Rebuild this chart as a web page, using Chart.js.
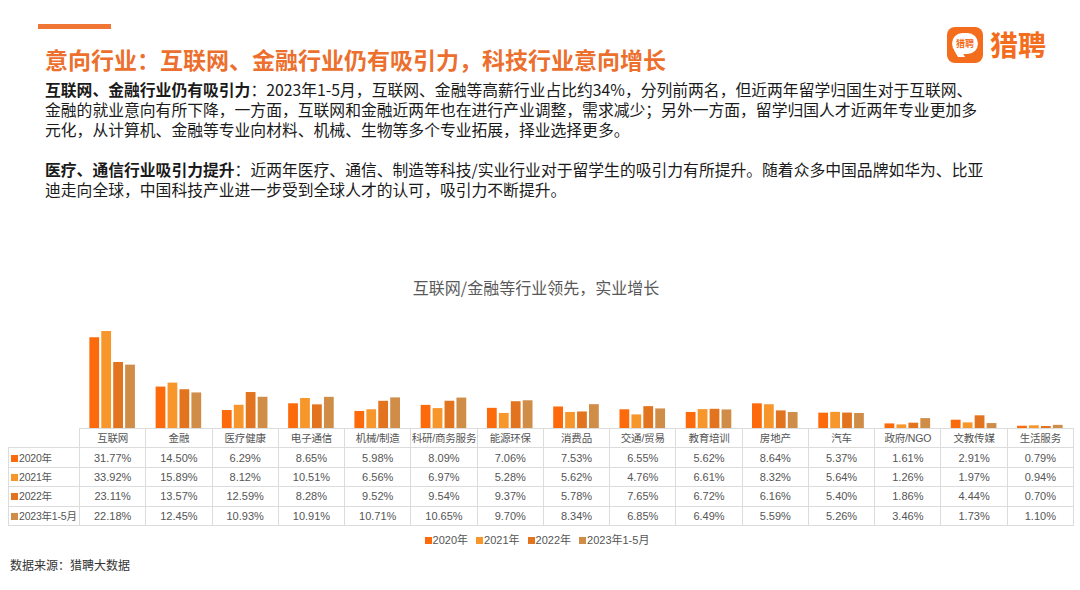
<!DOCTYPE html>
<html>
<head>
<meta charset="utf-8">
<script src="https://cdn.jsdelivr.net/npm/chart.js@4"></script>
<style>
  body { margin: 0; width: 1080px; height: 590px; background: #fff; position: relative; overflow: hidden;
         font-family: "Noto Sans CJK SC", "Liberation Sans", sans-serif; }
  .topbar { position: absolute; left: 38px; top: 24px; width: 73px; height: 5px; background: #ef7634; }
  .title { position: absolute; left: 45px; top: 42px; font-size: 23px; font-weight: bold; color: #ec6f2d; white-space: nowrap; }
  .body { position: absolute; left: 45px; top: 80px; font-size: 15.8px; line-height: 20px; color: #1a1a1a; white-space: nowrap; }
  .body b { font-weight: bold; }
  .logo { position: absolute; left: 947px; top: 27px; }
  .logo .sq { position: absolute; left: 0; top: 0; width: 36px; height: 36px; border-radius: 8px; background: #f36d1d; }
  .logo .bub { position: absolute; left: 5px; top: 6px; width: 26px; height: 21px; border-radius: 11px; background: #fff;
               color: #f36d1d; font-size: 9px; font-weight: bold; text-align: center; line-height: 21px; }
  .logo .tail { position: absolute; left: 9px; top: 23px; width: 7px; height: 7px; background: #fff; transform: skewX(30deg); }
  .logo .txt { position: absolute; left: 43px; top: -3px; font-size: 28px; font-weight: bold; color: #f36d1d; white-space: nowrap; }
  .ctitle { position: absolute; left: 0; width: 1072px; top: 275px; text-align: center; font-size: 16px; color: #595959; }
  #wrap { position: absolute; left: 79px; top: 318px; width: 994px; height: 110px; }
  table { position: absolute; left: 8px; top: 428px; border-collapse: collapse; table-layout: fixed;
          font-family: "Liberation Sans", "Noto Sans CJK SC", sans-serif; font-size: 11px; color: #555; }
  td { border: 1px solid #dcdcdc; height: 18.4px; line-height: 14px; padding: 0; text-align: center; white-space: nowrap; overflow: hidden; }
  tr.head td { font-size: 10.5px; letter-spacing: -0.2px; }
  td.lab { text-align: left; padding-left: 2px; font-size: 10.5px; letter-spacing: -0.2px; }
  td.blank { border-top: none; border-left: none; }
  .sw { display: inline-block; width: 7px; height: 7px; margin-right: 1px; vertical-align: 0px; }
  .legend { position: absolute; top: 531px; left: 0; width: 1074px; text-align: center; font-family: "Liberation Sans", "Noto Sans CJK SC", sans-serif;
            font-size: 11px; color: #555; }
  .legend span { margin: 0 4px; }
  .src { position: absolute; left: 10px; top: 556px; font-size: 12px; color: #333; }
</style>
</head>
<body>
<div class="topbar"></div>
<div class="title">意向行业：互联网、金融行业仍有吸引力，科技行业意向增长</div>
<div class="logo"><div class="sq"></div><div class="tail"></div><div class="bub">猎聘</div><div class="txt">猎聘</div></div>
<div class="body">
<b>互联网、金融行业仍有吸引力</b>：2023年1-5月，互联网、金融等高薪行业占比约34%，分列前两名，但近两年留学归国生对于互联网、<br>
金融的就业意向有所下降，一方面，互联网和金融近两年也在进行产业调整，需求减少；另外一方面，留学归国人才近两年专业更加多<br>
元化，从计算机、金融等专业向材料、机械、生物等多个专业拓展，择业选择更多。<br>
<br>
<b>医疗、通信行业吸引力提升</b>：近两年医疗、通信、制造等科技/实业行业对于留学生的吸引力有所提升。随着众多中国品牌如华为、比亚<br>
迪走向全球，中国科技产业进一步受到全球人才的认可，吸引力不断提升。
</div>
<div class="ctitle">互联网/金融等行业领先，实业增长</div>
<div id="wrap"><canvas id="chart"></canvas></div>
<table id="tbl"></table>
<div class="legend" id="legend"></div>
<div class="src">数据来源：猎聘大数据</div>

<script>
const categories = ['互联网', '金融', '医疗健康', '电子通信', '机械/制造', '科研/商务服务', '能源环保', '消费品',
  '交通/贸易', '教育培训', '房地产', '汽车', '政府/NGO', '文教传媒', '生活服务'];
const seriesNames = ['2020年', '2021年', '2022年', '2023年1-5月'];
const y2020 = [31.77, 14.50, 6.29, 8.65, 5.98, 8.09, 7.06, 7.53, 6.55, 5.62, 8.64, 5.37, 1.61, 2.91, 0.79];
const y2021 = [33.92, 15.89, 8.12, 10.51, 6.56, 6.97, 5.28, 5.62, 4.76, 6.61, 8.32, 5.64, 1.26, 1.97, 0.94];
const y2022 = [23.11, 13.57, 12.59, 8.28, 9.52, 9.54, 9.37, 5.78, 7.65, 6.72, 6.16, 5.40, 1.86, 4.44, 0.70];
const y2023 = [22.18, 12.45, 10.93, 10.91, 10.71, 10.65, 9.70, 8.34, 6.85, 6.49, 5.59, 5.26, 3.46, 1.73, 1.10];
const colors = ['#fd6a0c', '#f7962b', '#e2731f', '#cf8d48'];

const series = [y2020, y2021, y2022, y2023];

new Chart(document.getElementById('chart'), {
  type: 'bar',
  data: {
    labels: categories,
    datasets: series.map((data, i) => ({
      label: seriesNames[i],
      data: data,
      backgroundColor: colors[i],
      borderWidth: 0,
    })),
  },
  options: {
    responsive: true,
    maintainAspectRatio: false,
    animation: false,
    layout: { padding: 0 },
    categoryPercentage: 0.72,
    barPercentage: 0.82,
    scales: {
      x: { display: false },
      y: { display: false, min: 0, max: 38.5 },
    },
    plugins: {
      legend: { display: false },
      tooltip: { enabled: false },
    },
  },
});

// table under the bars
const tbl = document.getElementById('tbl');
const colW = 994 / categories.length;
let html = '<colgroup><col style="width:71px">' + categories.map(() => `<col style="width:${colW}px">`).join('') + '</colgroup>';
html += '<tr class="head"><td class="blank"></td>' + categories.map(c => `<td>${c}</td>`).join('') + '</tr>';
series.forEach((data, i) => {
  html += `<tr><td class="lab"><span class="sw" style="background:${colors[i]}"></span>${seriesNames[i]}</td>` +
    data.map(v => `<td>${v.toFixed(2)}%</td>`).join('') + '</tr>';
});
tbl.innerHTML = html;
tbl.style.width = (71 + 994) + 'px';

document.getElementById('legend').innerHTML = seriesNames
  .map((n, i) => `<span><i class="sw" style="background:${colors[i]}"></i>${n}</span>`)
  .join('');
</script>
</body>
</html>
